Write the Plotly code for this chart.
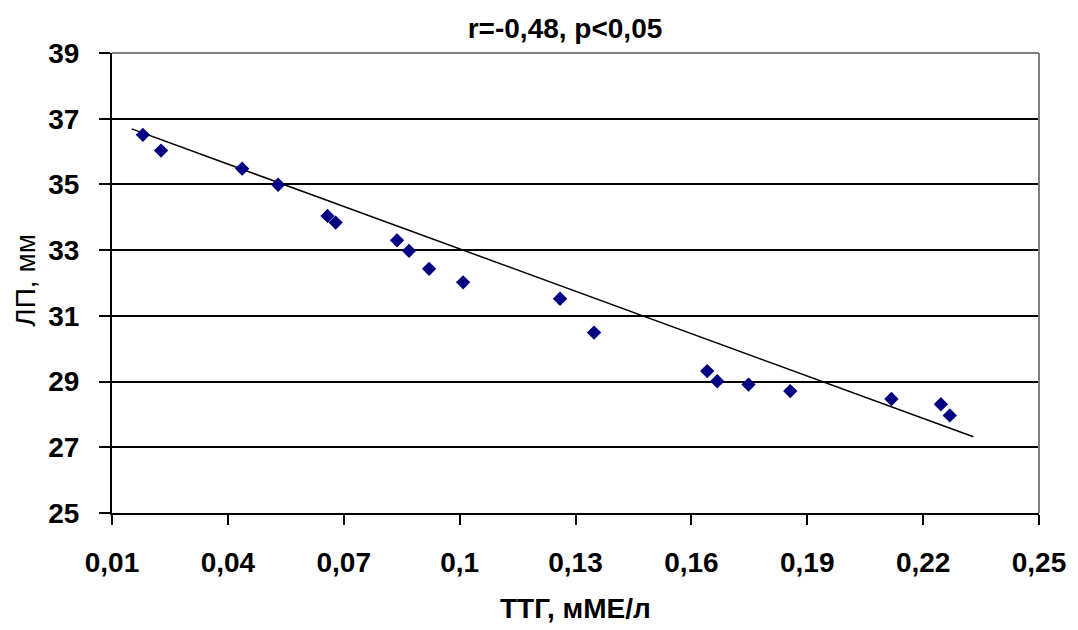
import plotly.graph_objects as go

# TSH (mIU/l) vs. measured value (mm)
ttg = [0.0180, 0.0227, 0.0437, 0.0530, 0.0658, 0.0679, 0.0838, 0.0869, 0.0921,
       0.1009, 0.1260, 0.1348, 0.1641, 0.1667, 0.1748, 0.1856, 0.2118, 0.2246, 0.2269]
lp = [36.51, 36.03, 35.48, 34.99, 34.04, 33.84, 33.30, 32.98, 32.43,
      32.02, 31.52, 30.49, 29.32, 29.01, 28.91, 28.71, 28.47, 28.31, 27.97]

# linear trend line end points
trend_x = [0.0151, 0.2330]
trend_y = [36.69, 27.32]

x_ticks = [0.01, 0.04, 0.07, 0.10, 0.13, 0.16, 0.19, 0.22, 0.25]
x_tick_text = ["0,01", "0,04", "0,07", "0,1", "0,13", "0,16", "0,19", "0,22", "0,25"]
y_ticks = [25, 27, 29, 31, 33, 35, 37, 39]

title_text = "r=-0,48, p<0,05"
x_title = "ТТГ, мМЕ/л"
y_title = "ЛП, мм"

W, H = 1078, 630
L, R, T, B = 112, 32, 53, 117
plot_w = W - L - R
plot_h = H - T - B

FAMILY = "Liberation Sans"
bold_font = dict(family=FAMILY, size=28, color="black", weight="bold")

fig = go.Figure()
fig.add_trace(go.Scatter(
    x=trend_x, y=trend_y, mode="lines",
    line=dict(color="black", width=1.5), hoverinfo="skip", showlegend=False))
fig.add_trace(go.Scatter(
    x=ttg, y=lp, mode="markers",
    marker=dict(symbol="diamond", size=11, color="#000080", line=dict(width=0)),
    showlegend=False))

fig.update_layout(
    width=W, height=H,
    margin=dict(l=L, r=R, t=T, b=B),
    paper_bgcolor="white", plot_bgcolor="white",
    title=dict(text=title_text, font=bold_font,
               x=565 / W, xref="container", xanchor="center",
               y=1 - 28 / H, yref="container", yanchor="middle"),
    xaxis=dict(range=[0.01, 0.25], tickvals=x_ticks, ticktext=x_tick_text,
               showgrid=False, zeroline=False,
               showline=True, linecolor="black", linewidth=2,
               ticks="outside", ticklen=10, tickwidth=2, tickcolor="black",
               ticklabelstandoff=13, tickfont=bold_font),
    yaxis=dict(range=[25, 39], tickvals=y_ticks,
               showgrid=True, gridcolor="black", gridwidth=2, zeroline=False,
               showline=True, linecolor="black", linewidth=2,
               ticks="outside", ticklen=11, tickwidth=2, tickcolor="black",
               ticklabelstandoff=14, tickfont=bold_font),
    shapes=[
        dict(type="line", xref="paper", yref="paper", x0=0, x1=1, y0=1, y1=1,
             line=dict(color="#808080", width=2), layer="above"),
        dict(type="line", xref="paper", yref="paper", x0=1, x1=1, y0=0, y1=1,
             line=dict(color="#808080", width=2), layer="above"),
    ],
    annotations=[
        dict(text=x_title, xref="paper", yref="paper",
             x=0.5, y=(0 - (608 - (H - B))) / plot_h, xanchor="center", yanchor="middle",
             showarrow=False, font=bold_font),
        dict(text=y_title, xref="paper", yref="paper", textangle=-90,
             x=(24 - L) / plot_w, y=1 - (280 - T) / plot_h, xanchor="center", yanchor="middle",
             showarrow=False, font=dict(family=FAMILY, size=28, color="black")),
    ],
)

fig.write_html("out.html")
